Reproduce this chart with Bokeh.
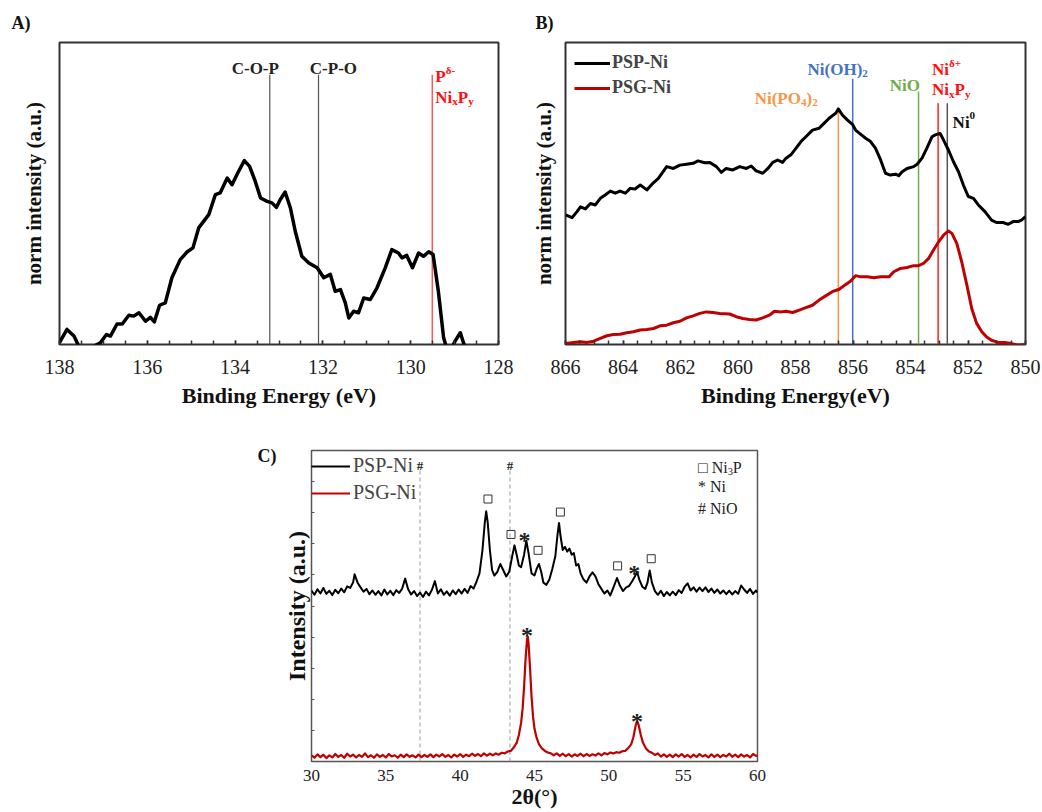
from bokeh.plotting import figure
from bokeh.models import Range1d, FixedTicker, Label, Legend, LegendItem
from bokeh.layouts import column, row
from bokeh.core.properties import value
from bokeh.embed import file_html
from bokeh.resources import INLINE

SERIF = "Liberation Serif"

# ---------------- Panel A : P 2p XPS ----------------
a_energy = [138.00, 137.83, 137.67, 137.56, 137.41, 137.22, 137.07, 136.93, 136.84, 136.69,
            136.57, 136.42, 136.31, 136.19, 136.04, 135.93, 135.84, 135.72, 135.59, 135.44,
            135.25, 135.09, 134.96, 134.83, 134.60, 134.45, 134.34, 134.18, 134.07, 133.94,
            133.79, 133.67, 133.54, 133.42, 133.27, 133.16, 133.06, 132.97, 132.86, 132.74,
            132.63, 132.48, 132.32, 132.13, 131.98, 131.83, 131.72, 131.60, 131.49, 131.41,
            131.30, 131.19, 131.07, 130.92, 130.77, 130.58, 130.43, 130.28, 130.20, 130.09,
            129.96, 129.82, 129.71, 129.59, 129.49, 129.37, 129.25, 129.14, 128.99, 128.87,
            128.76]
a_intensity = [0.6, 5.0, 2.8, -0.6, -3.3, -0.6, 0.6, 3.3, 2.8, 6.8,
               6.8, 9.7, 9.4, 10.5, 7.7, 9.0, 7.5, 13.0, 13.8, 22.1,
               28.1, 30.7, 32.0, 38.6, 43.0, 49.6, 50.2, 55.1, 52.9, 56.8,
               60.9, 59.0, 54.0, 48.5, 47.4, 46.9, 45.4, 48.0, 50.5, 45.2,
               37.5, 29.2, 27.0, 25.4, 22.1, 23.2, 17.6, 18.2, 13.8, 8.8,
               11.0, 10.5, 15.4, 14.9, 18.7, 25.4, 31.4, 30.3, 28.7, 29.5,
               25.4, 30.3, 29.2, 30.7, 29.8, 17.6, 2.2, -3.3, 1.1, 3.9,
               -1.1]
a_ref_energy = [133.21, 132.10, 129.51]
a_ref_top = [89.3, 89.3, 89.3]
a_ref_colors = ["#555555", "#555555", "#ff3030"]
a_ticks = [128, 130, 132, 134, 136, 138]

# ---------------- Panel B : Ni 2p XPS ----------------
b_energy_psp = [866.00, 865.77, 865.60, 865.48, 865.31, 865.13, 864.96, 864.79, 864.62, 864.44,
                864.27, 864.10, 863.92, 863.75, 863.58, 863.40, 863.17, 863.00, 862.77, 862.48,
                862.25, 862.02, 861.79, 861.56, 861.39, 861.16, 860.98, 860.75, 860.58, 860.41,
                860.18, 859.94, 859.71, 859.54, 859.37, 859.14, 858.96, 858.79, 858.62, 858.45,
                858.33, 858.16, 857.98, 857.81, 857.64, 857.41, 857.18, 857.00, 856.83, 856.60,
                856.51, 856.37, 856.20, 856.02, 855.91, 855.73, 855.56, 855.39, 855.22, 855.04,
                854.87, 854.70, 854.52, 854.41, 854.29, 854.12, 853.89, 853.77, 853.60, 853.43,
                853.25, 853.14, 852.97, 852.85, 852.68, 852.51, 852.33, 852.16, 851.99, 851.81,
                851.64, 851.41, 851.18, 851.01, 850.78, 850.60, 850.43, 850.26, 850.14, 850.00]
b_int_psp = [42.9, 42.0, 44.0, 45.6, 44.9, 46.7, 46.2, 48.4, 49.5, 50.8,
             50.1, 50.8, 50.1, 51.7, 51.5, 52.8, 51.2, 53.0, 55.0, 58.9,
             58.3, 59.4, 59.7, 60.0, 60.8, 60.2, 60.3, 58.9, 57.0, 58.3,
             57.8, 58.9, 58.3, 59.1, 57.5, 56.7, 58.3, 60.3, 61.1, 60.3,
             61.7, 62.8, 65.0, 67.2, 68.8, 71.0, 71.6, 73.3, 74.9, 76.6,
             78.0, 76.0, 74.4, 72.9, 71.0, 69.6, 68.3, 67.2, 65.0, 61.1,
             56.7, 56.1, 56.4, 55.9, 57.2, 58.3, 58.9, 59.7, 61.7, 65.0,
             68.8, 69.4, 69.9, 67.7, 64.4, 60.6, 57.2, 52.8, 49.0, 48.4,
             46.2, 44.0, 41.2, 40.4, 40.4, 39.8, 40.7, 40.7, 41.2, 42.3]
b_energy_psg = [866.00, 865.71, 865.48, 865.25, 865.02, 864.79, 864.56, 864.33, 864.10, 863.87,
                863.64, 863.40, 863.17, 862.94, 862.71, 862.48, 862.25, 862.02, 861.79, 861.56,
                861.33, 861.10, 860.87, 860.64, 860.29, 860.06, 859.83, 859.60, 859.37, 859.14,
                858.91, 858.73, 858.50, 858.33, 858.10, 857.87, 857.64, 857.41, 857.18, 856.95,
                856.72, 856.48, 856.25, 856.08, 855.91, 855.73, 855.50, 855.27, 855.04, 854.75,
                854.58, 854.35, 854.12, 853.89, 853.72, 853.54, 853.37, 853.20, 853.02, 852.85,
                852.68, 852.56, 852.39, 852.22, 852.04, 851.87, 851.70, 851.52, 851.35, 851.18,
                850.95, 850.72, 850.49, 850.26, 850.00]
b_int_psg = [0.3, 0.7, 0.9, 0.7, 1.1, 2.0, 2.9, 3.3, 3.4, 3.9,
             4.2, 4.8, 5.0, 5.3, 6.2, 6.4, 7.2, 7.7, 8.8, 9.5,
             10.3, 10.8, 10.6, 10.3, 10.1, 9.2, 8.6, 8.3, 8.1, 8.8,
             9.7, 11.0, 10.8, 11.0, 10.6, 11.4, 12.2, 13.0, 14.7, 16.1,
             17.5, 18.3, 19.9, 21.0, 22.8, 22.4, 22.4, 22.1, 22.4, 22.4,
             24.1, 25.2, 25.5, 26.1, 26.1, 26.9, 28.5, 31.3, 34.0, 36.2,
             37.6, 36.8, 33.5, 27.4, 19.7, 11.9, 7.0, 4.2, 2.5, 1.4,
             0.7, 0.7, 0.3, -0.2, 0.0]
b_ref_energy = [856.51, 856.01, 853.72, 853.04, 852.72]
b_ref_top = [78.1, 88.0, 83.8, 79.9, 79.9]
b_ref_colors = ["#F79646", "#4472C4", "#70AD47", "#FF2020", "#555555"]
b_ticks = [850, 852, 854, 856, 858, 860, 862, 864, 866]

# ---------------- Panel C : XRD ----------------
psp_2theta = [30.0, 30.2, 30.4, 30.6, 30.8, 31.0, 31.2, 31.4, 31.6, 31.8,
              32.0, 32.2, 32.4, 32.6, 32.8, 32.9, 33.1, 33.3, 33.5, 33.7,
              33.9, 34.1, 34.3, 34.5, 34.7, 34.9, 35.1, 35.3, 35.5, 35.7,
              35.9, 36.1, 36.3, 36.5, 36.7, 36.9, 37.1, 37.3, 37.5, 37.7,
              37.9, 38.1, 38.3, 38.5, 38.7, 38.9, 39.1, 39.3, 39.5, 39.7,
              39.9, 40.1, 40.3, 40.5, 40.7, 40.9, 41.1, 41.3, 41.5, 41.65,
              41.75, 41.85, 42.0, 42.15, 42.3, 42.5, 42.7, 42.9, 43.1, 43.3,
              43.5, 43.65, 43.8, 43.95, 44.1, 44.3, 44.45, 44.6, 44.8, 45.0,
              45.15, 45.3, 45.45, 45.6, 45.8, 46.0, 46.2, 46.4, 46.55, 46.65,
              46.75, 46.9, 47.05, 47.2, 47.35, 47.5, 47.65, 47.8, 47.95, 48.1,
              48.3, 48.5, 48.7, 48.9, 49.1, 49.3, 49.5, 49.7, 49.9, 50.1,
              50.3, 50.55, 50.75, 50.95, 51.15, 51.35, 51.55, 51.75, 51.9, 52.05,
              52.25, 52.45, 52.6, 52.75, 52.9, 53.1, 53.3, 53.5, 53.7, 53.9,
              54.1, 54.3, 54.5, 54.7, 54.9, 55.1, 55.3, 55.5, 55.7, 55.9,
              56.1, 56.3, 56.5, 56.7, 56.9, 57.1, 57.3, 57.5, 57.7, 57.9,
              58.1, 58.3, 58.5, 58.7, 58.9, 59.1, 59.3, 59.5, 59.7, 59.9,
              60.0]
psp_int = [55.0, 53.6, 55.4, 54.0, 55.8, 53.9, 54.9, 53.5, 55.2, 54.1,
           55.6, 54.4, 56.3, 55.8, 57.6, 60.2, 57.5, 56.0, 54.6, 55.5,
           53.8, 55.0, 53.6, 54.8, 53.4, 55.3, 53.7, 54.9, 53.5, 55.1,
           54.2, 55.6, 58.8, 55.4, 53.7, 54.8, 53.2, 54.3, 52.9, 54.6,
           53.4, 55.2, 58.0, 54.0, 55.4, 53.6, 54.7, 53.3, 55.0, 53.8,
           55.3, 54.0, 55.5, 54.2, 56.4, 55.6, 57.8, 60.5, 68.0, 76.5,
           80.5, 77.0, 68.0, 61.5, 59.8, 61.0, 63.5, 61.5, 59.5, 61.0,
           66.0, 69.5, 66.5, 63.0, 62.5, 66.5, 71.0, 67.0, 60.5, 59.8,
           62.0, 63.5, 61.0, 57.5, 56.8, 58.5, 62.0, 66.0, 73.0, 76.7,
           72.5, 68.0, 69.0, 67.5, 68.5, 66.5, 67.0, 63.0, 63.5, 60.5,
           58.5, 57.5, 59.5, 60.8, 59.5, 57.0, 55.5, 54.0, 55.0, 53.4,
           55.8, 59.0, 56.5, 54.8, 55.9, 56.4, 57.8, 59.5, 61.0, 58.5,
           56.2, 55.5, 57.5, 61.4, 57.5, 54.8, 53.6, 54.9, 53.2, 54.5,
           53.4, 54.6, 53.5, 55.1, 54.2, 56.2, 57.3, 55.0, 56.0, 54.6,
           55.9, 54.8, 56.0, 54.5, 55.6, 54.2, 55.3, 54.0, 55.0, 53.8,
           54.9, 53.7, 54.8, 53.9, 56.6, 55.3, 54.2, 55.5, 53.9, 55.0,
           54.3]
psg_2theta = [30.0, 30.2, 30.4, 30.6, 30.8, 31.0, 31.2, 31.4, 31.6, 31.8,
              32.0, 32.2, 32.4, 32.6, 32.8, 33.0, 33.2, 33.4, 33.6, 33.8,
              34.0, 34.2, 34.4, 34.6, 34.8, 35.0, 35.2, 35.4, 35.6, 35.8,
              36.0, 36.2, 36.4, 36.6, 36.8, 37.0, 37.2, 37.4, 37.6, 37.8,
              38.0, 38.2, 38.4, 38.6, 38.8, 39.0, 39.2, 39.4, 39.6, 39.8,
              40.0, 40.2, 40.4, 40.6, 40.8, 41.0, 41.2, 41.4, 41.6, 41.8,
              42.0, 42.2, 42.4, 42.6, 42.8, 43.0, 43.2, 43.4, 43.6, 43.8,
              43.95, 44.1, 44.2, 44.3, 44.4, 44.5, 44.55, 44.6, 44.7, 44.8,
              44.9, 45.0, 45.15, 45.3, 45.5, 45.7, 45.9, 46.1, 46.3, 46.5,
              46.7, 46.9, 47.1, 47.3, 47.5, 47.7, 47.9, 48.1, 48.3, 48.5,
              48.7, 48.9, 49.1, 49.3, 49.5, 49.7, 49.9, 50.1, 50.3, 50.5,
              50.7, 50.9, 51.1, 51.3, 51.5, 51.65, 51.8, 51.9, 52.0, 52.15,
              52.3, 52.5, 52.7, 52.9, 53.1, 53.3, 53.5, 53.7, 53.9, 54.1,
              54.3, 54.5, 54.7, 54.9, 55.1, 55.3, 55.5, 55.7, 55.9, 56.1,
              56.3, 56.5, 56.7, 56.9, 57.1, 57.3, 57.5, 57.7, 57.9, 58.1,
              58.3, 58.5, 58.7, 58.9, 59.1, 59.3, 59.5, 59.7, 59.9, 60.0]
psg_int = [2.0, 1.2, 2.3, 1.4, 2.2, 1.1, 2.0, 1.3, 2.4, 1.5,
           2.1, 1.2, 2.5, 1.6, 2.2, 1.3, 2.1, 1.5, 2.6, 1.4,
           2.0, 1.2, 2.3, 1.5, 2.1, 1.3, 2.4, 1.6, 2.0, 1.2,
           2.2, 1.4, 2.3, 1.5, 2.0, 1.3, 2.2, 1.4, 2.1, 1.5,
           2.3, 1.4, 2.2, 1.6, 2.4, 1.5, 2.1, 1.3, 2.2, 1.6,
           2.4, 1.5, 2.2, 1.7, 2.5, 1.8, 2.4, 1.7, 2.6, 1.9,
           2.5, 2.0, 2.6, 2.2, 2.8, 2.6, 3.2, 3.4, 4.5, 6.0,
           8.5, 12.5, 17.0, 24.0, 33.0, 39.5, 40.0, 38.0, 30.0, 21.0,
           14.5, 10.5, 7.5, 5.6, 4.2, 3.4, 2.9, 2.6, 2.0, 2.6,
           1.8, 2.5, 1.7, 2.4, 1.6, 2.3, 1.8, 2.5, 1.7, 2.4,
           1.8, 2.3, 1.9, 2.6, 2.0, 2.7, 2.3, 2.9, 2.6, 3.0,
           2.8, 3.3, 3.4, 4.3, 5.5, 7.8, 11.5, 12.9, 11.8, 8.5,
           6.0, 4.2, 3.2, 2.8, 2.1, 2.6, 1.6, 2.3, 1.5, 2.2,
           1.4, 2.3, 1.6, 2.4, 1.5, 2.1, 1.3, 2.2, 1.5, 2.4,
           1.6, 2.1, 1.3, 2.3, 1.5, 2.2, 1.4, 2.1, 1.6, 2.5,
           1.5, 2.2, 1.4, 2.3, 1.6, 2.1, 1.3, 2.4, 1.8, 2.0]
nio_2theta = [37.3, 43.35]
nio_top = [94.9, 93.6]
nio_mark_y = [95.3, 95.3]
ni3p_2theta = [41.87, 43.42, 45.24, 46.74, 50.59, 52.85]
ni3p_mark = [84.4, 73.0, 67.9, 80.2, 62.9, 65.2]
ni_2theta = [44.32, 51.71, 44.50, 51.89]
ni_mark = [75.1, 64.6, 44.5, 16.8]
c_xticks = [30, 35, 40, 45, 50, 55, 60]
c_yticks = [10, 20, 30, 40, 50, 60, 70, 80, 90]

# ---------------- helpers ----------------
W_BOLD = {'N': 722, 'i': 278, '(': 333, ')': 333, 'O': 778, 'H': 778, 'P': 611, 'x': 500,
          'y': 500, '-': 333, '+': 570, '0': 500, '2': 500, '3': 500, '4': 500, ' ': 250}
W_REG = {'N': 722, 'i': 278, 'P': 556, 'O': 722, '3': 500, '*': 500, '#': 500, ' ': 250,
         '\u25a1': 600}


def text_width(s, size, bold):
    table = W_BOLD if bold else W_REG
    return sum(table.get(c, 500) for c in s) * size / 1000.0


def rich_label(p, x, y, segs, size, color, bold, px_per_unit):
    off = 0.0
    for s, kind in segs:
        if kind == "sub":
            fs, dy = size * 0.65, -0.22 * size
        elif kind == "sup":
            fs, dy = size * 0.65, 0.40 * size
        else:
            fs, dy = size, 0.0
        p.add_layout(Label(x=x, y=y + dy / px_per_unit, x_offset=off, text=s,
                           text_font=SERIF, text_font_size=f"{fs:.1f}px",
                           text_font_style="bold" if bold else "normal",
                           text_color=color, text_align="left", text_baseline="alphabetic"))
        off += text_width(s, fs, bold)


def plain_label(p, x, y, text, size, color, bold=True, align="left"):
    p.add_layout(Label(x=x, y=y, text=text, text_font=SERIF, text_font_size=f"{size}px",
                       text_font_style="bold" if bold else "normal", text_color=color,
                       text_align=align, text_baseline="alphabetic"))


def make_fig(x_range, y_range, fw, fh, bl, br, bt, bb):
    p = figure(x_range=x_range, y_range=y_range, frame_width=fw, frame_height=fh,
               min_border_left=bl, min_border_right=br, min_border_top=bt,
               min_border_bottom=bb, output_backend="svg", toolbar_location=None, tools="")
    p.xgrid.visible = False
    p.ygrid.visible = False
    p.background_fill_color = "white"
    p.border_fill_color = "white"
    return p


def panel_title(p, text, offset, standoff=10):
    p.title.text = text
    p.title.align = "left"
    p.title.offset = offset
    p.title.standoff = standoff
    p.title.text_font = SERIF
    p.title.text_font_size = "18px"
    p.title.text_font_style = "bold"
    p.title.text_color = "#111111"


def style_x(ax, ticks, minor, label, font_px, label_px, standoff, label_standoff, tick_len,
            tick_color="#333333"):
    ax.ticker = FixedTicker(ticks=ticks, minor_ticks=minor)
    ax.axis_label = label
    ax.axis_label_text_font = SERIF
    ax.axis_label_text_font_style = "bold"
    ax.axis_label_text_font_size = f"{label_px}px"
    ax.axis_label_text_color = "#111111"
    ax.major_label_text_font = SERIF
    ax.major_label_text_font_size = f"{font_px}px"
    ax.major_label_text_color = "#222222"
    ax.major_label_standoff = standoff
    ax.axis_label_standoff = label_standoff
    ax.major_tick_in = tick_len
    ax.major_tick_out = 0
    ax.minor_tick_in = tick_len
    ax.minor_tick_out = 0
    ax.major_tick_line_color = tick_color
    ax.minor_tick_line_color = tick_color
    ax.major_tick_line_width = 1.5
    ax.minor_tick_line_width = 1.5
    ax.axis_line_color = None


def style_y(ax, label, label_px, label_standoff, ticks, tick_len):
    ax.ticker = FixedTicker(ticks=ticks)
    ax.major_label_overrides = {t: "" for t in ticks}
    ax.major_label_standoff = 0
    ax.axis_label = label
    ax.axis_label_text_font = SERIF
    ax.axis_label_text_font_style = "bold"
    ax.axis_label_text_font_size = f"{label_px}px"
    ax.axis_label_text_color = "#111111"
    ax.axis_label_standoff = label_standoff
    ax.major_tick_in = tick_len
    ax.major_tick_out = 0
    ax.minor_tick_line_color = None
    ax.major_tick_line_color = "#555555"
    ax.major_tick_line_width = 1.2
    ax.axis_line_color = None


def half_ticks(lo, hi):
    return [lo + 0.5 * k for k in range(int((hi - lo) * 2) + 1)]


RED = "#FF1010"

# ---------------- Panel A ----------------
pA = make_fig(Range1d(138, 128), Range1d(0, 100), 439, 302, 59, 22, 41, 77)
pA.outline_line_color = "#333333"
pA.outline_line_width = 2
pA.segment(x0=a_ref_energy, y0=[0] * len(a_ref_energy), x1=a_ref_energy, y1=a_ref_top,
           line_color=a_ref_colors, line_width=1.2)
pA.line(a_energy, a_intensity, line_color="black", line_width=3.5, line_join="round")
style_x(pA.xaxis[0], a_ticks, half_ticks(128, 138), "Binding Energy (eV)", 20, 22, 15, 6, 4)
style_y(pA.yaxis[0], "norm intensity (a.u.)", 21, 14, [], 0)
plain_label(pA, 133.54, 91.4, "C-O-P", 17, "#222222", True, "center")
plain_label(pA, 131.76, 91.5, "C-P-O", 17, "#222222", True, "center")
rich_label(pA, 129.44, 88.75, [("P", "n"), ("\u03b4-", "sup")], 17, RED, True, 3.02)
rich_label(pA, 129.44, 81.9, [("Ni", "n"), ("x", "sub"), ("P", "n"), ("y", "sub")], 17, RED, True, 3.02)
panel_title(pA, "A)", -48, 20)

# ---------------- Panel B ----------------
pB = make_fig(Range1d(866, 850), Range1d(0, 100), 460, 302, 45, 16, 41, 77)
pB.outline_line_color = "#333333"
pB.outline_line_width = 2
pB.segment(x0=b_ref_energy, y0=[0] * len(b_ref_energy), x1=b_ref_energy, y1=b_ref_top,
           line_color=b_ref_colors, line_width=1.5)
rb1 = pB.line(b_energy_psp, b_int_psp, line_color="black", line_width=3, line_join="round")
rb2 = pB.line(b_energy_psg, b_int_psg, line_color="#C00000", line_width=3, line_join="round")
style_x(pB.xaxis[0], b_ticks, half_ticks(850, 866), "Binding Energy(eV)", 20, 22, 15, 6, 4)
style_y(pB.yaxis[0], "norm intensity (a.u.)", 21, 10, [], 0)
legB = Legend(items=[LegendItem(label="PSP-Ni", renderers=[rb1]),
                     LegendItem(label="PSG-Ni", renderers=[rb2])],
              location=(9, 246), background_fill_alpha=0, border_line_color=None,
              label_text_font=SERIF, label_text_font_style="bold", label_text_font_size="18px",
              glyph_width=36, glyph_height=20, label_height=20, label_standoff=2,
              spacing=4, padding=4, margin=0)
pB.add_layout(legB)
rich_label(pB, 857.58, 90.9, [("Ni(OH)", "n"), ("2", "sub")], 17, "#4472C4", True, 3.02)
rich_label(pB, 859.42, 81.5, [("Ni(PO", "n"), ("4", "sub"), (")", "n"), ("2", "sub")], 17, "#F79646", True, 3.02)
plain_label(pB, 854.72, 85.7, "NiO", 17, "#70AD47", True)
rich_label(pB, 853.25, 90.9, [("Ni", "n"), ("\u03b4+", "sup")], 17, RED, True, 3.02)
rich_label(pB, 853.25, 84.3, [("Ni", "n"), ("x", "sub"), ("P", "n"), ("y", "sub")], 17, RED, True, 3.02)
rich_label(pB, 852.535, 73.6, [("Ni", "n"), ("0", "sup")], 17, "#111111", True, 3.02)
panel_title(pB, "B)", -30, 20)

# ---------------- Panel C ----------------
C_FH = 311
C_PPU = C_FH / 100.0
pC = make_fig(Range1d(30, 60), Range1d(0, 100), 446, C_FH, 63, 20, 29, 50)
pC.outline_line_color = "#555555"
pC.outline_line_width = 1.5
pC.segment(x0=nio_2theta, y0=[0] * len(nio_2theta), x1=nio_2theta, y1=nio_top,
           line_color="#9a9a9a", line_width=1, line_dash="4 3")
rc1 = pC.line(psp_2theta, psp_int, line_color="black", line_width=2.0, line_join="round")
rc2 = pC.line(psg_2theta, psg_int, line_color="#C00000", line_width=2.2, line_join="round")
pC.scatter(ni3p_2theta, ni3p_mark, marker="square", size=8, fill_color=None,
           line_color="#333333", line_width=1)
pC.text(x=ni_2theta, y=[v - 12 / C_PPU for v in ni_mark], text=["*"] * len(ni_2theta),
        text_font=value(SERIF), text_font_size="24px", text_font_style="bold",
        text_color="#222222", text_align="center", text_baseline="alphabetic")
pC.text(x=nio_2theta, y=nio_mark_y, text=["#"] * len(nio_2theta),
        text_font=value(SERIF), text_font_size="13px", text_font_style="bold",
        text_color="#222222", text_align="center", text_baseline="alphabetic")
style_x(pC.xaxis[0], c_xticks, [], "2\u03b8(\u00b0)", 17, 22, 8, 0, 0)
style_y(pC.yaxis[0], "Intensity (a.u.)", 24, 2, c_yticks, 3)
legC = Legend(items=[LegendItem(label="PSP-Ni", renderers=[rc1]),
                     LegendItem(label="PSG-Ni", renderers=[rc2])],
              location=(0, C_FH - 54), background_fill_alpha=0, border_line_color=None,
              label_text_font=SERIF, label_text_font_style="normal", label_text_font_size="20px",
              glyph_width=39, glyph_height=20, label_height=20, label_standoff=3,
              spacing=4, padding=2, margin=0)
pC.add_layout(legC)
rich_label(pC, 56.0, 94.4, [("\u25a1 Ni", "n"), ("3", "sub"), ("P", "n")], 16, "#222222", False, C_PPU)
rich_label(pC, 56.0, 88.3, [("* Ni", "n")], 16, "#222222", False, C_PPU)
rich_label(pC, 56.0, 81.5, [("# NiO", "n")], 16, "#222222", False, C_PPU)
panel_title(pC, "C)", -54, -30)

spacer = figure(width=248, height=20, output_backend="svg", toolbar_location=None, tools="",
                outline_line_color=None, x_axis_location=None, y_axis_location=None,
                min_border=0)
spacer.xgrid.visible = False
spacer.ygrid.visible = False

layout = column(row(pA, pB), row(spacer, pC))

open("out.html", "w").write(file_html(layout, INLINE))
